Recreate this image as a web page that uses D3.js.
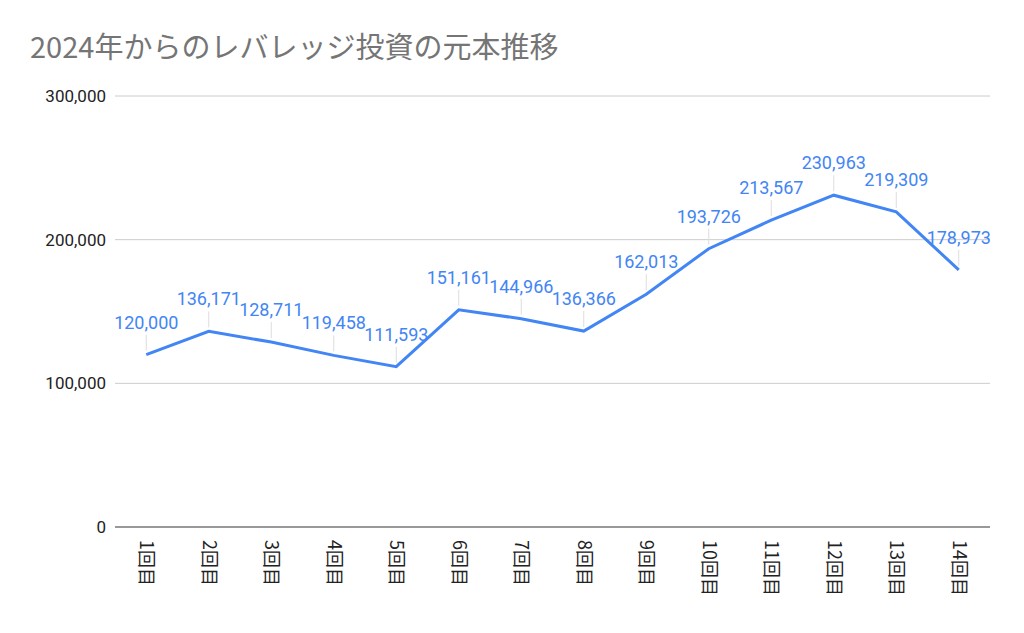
<!DOCTYPE html>
<html><head><meta charset="utf-8">
<script src="https://cdn.jsdelivr.net/npm/d3@7"></script>
<style>body{margin:0;background:#fff;font-family:Roboto,"Noto Sans CJK JP",sans-serif}</style>
</head><body>
<svg id="c" width="1024" height="633"></svg>
<script>
const categories=["1回目","2回目","3回目","4回目","5回目","6回目","7回目","8回目","9回目","10回目","11回目","12回目","13回目","14回目"];
const values=[120000,136171,128711,119458,111593,151161,144966,136366,162013,193726,213567,230963,219309,178973];
const yTicks=[0,100000,200000,300000];
const title="2024年からのレバレッジ投資の元本推移";

const svg=d3.select("#c");
const x=d3.scalePoint().domain(categories).range([115,990]).padding(0.5);
const y=d3.scaleLinear().domain([0,300000]).range([527,96]);
const fmt=d3.format(",");

svg.append("text").attr("x",30).attr("y",58).attr("fill","#757575")
  .attr("font-size",29).attr("font-family","'Noto Sans CJK JP',sans-serif").text(title);

svg.append("g").selectAll("line").data(yTicks.slice(1)).join("line")
  .attr("x1",115).attr("x2",990).attr("y1",d=>y(d)).attr("y2",d=>y(d)).attr("stroke","#ccc");
svg.append("line").attr("x1",115).attr("x2",990).attr("y1",y(0)).attr("y2",y(0)).attr("stroke","#333");
svg.append("g").selectAll("text").data(yTicks).join("text")
  .attr("x",106).attr("y",d=>y(d)+6).attr("text-anchor","end").attr("font-size",17).attr("fill","#222")
  .text(d=>fmt(d));

svg.append("g").selectAll("text").data(categories).join("text")
  .attr("transform",d=>`translate(${x(d)-6},540) rotate(90)`)
  .attr("font-size",18).attr("fill","#222").attr("font-family","'Noto Sans CJK JP',sans-serif")
  .text(d=>d);

svg.append("g").selectAll("line").data(values).join("line")
  .attr("x1",(d,i)=>x(categories[i])).attr("x2",(d,i)=>x(categories[i]))
  .attr("y1",d=>y(d)-4).attr("y2",d=>y(d)-20).attr("stroke","#ddd");

svg.append("path").datum(values)
  .attr("d",d3.line().x((d,i)=>x(categories[i])).y(d=>y(d)))
  .attr("fill","none").attr("stroke","#4285f4").attr("stroke-width",3);

svg.append("g").selectAll("text").data(values).join("text")
  .attr("x",(d,i)=>x(categories[i])).attr("y",d=>y(d)-26).attr("text-anchor","middle")
  .attr("font-size",18).attr("fill","#4285f4").text(d=>fmt(d));
</script>
</body></html>
